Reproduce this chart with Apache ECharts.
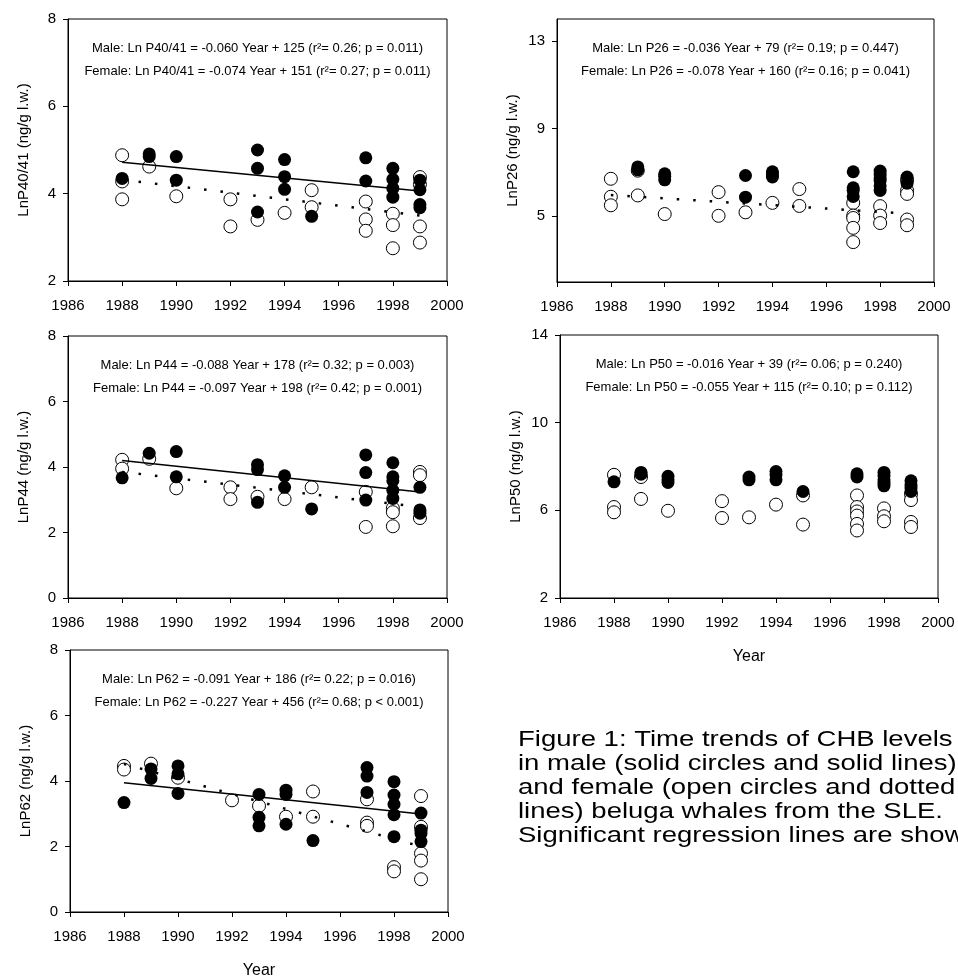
<!DOCTYPE html>
<html>
<head>
<meta charset="utf-8">
<title>CHB time trends</title>
<script src="https://cdn.jsdelivr.net/npm/echarts@6/dist/echarts.min.js"></script>
<style>
  html, body { margin: 0; padding: 0; background: #fff; }
  #chart { width: 958px; height: 980px; }
</style>
</head>
<body>
<div id="chart"></div>
<script>
// ---- Data: [year, ln concentration] ----
const maleP4041 = [[1988,4.35],[1989,4.91],[1989,4.85],[1990,4.85],[1990,4.31],[1993,5.0],[1993,4.58],[1993,3.58],
  [1994,4.78],[1994,4.39],[1994,4.10],[1995,3.48],[1997,4.82],[1997,4.29],[1998,4.58],[1998,4.33],[1998,4.12],
  [1998,3.92],[1999,4.31],[1999,4.09],[1999,3.75],[1999,3.68]];
const femaleP4041 = [[1988,4.88],[1988,4.28],[1988,3.87],[1989,4.62],[1990,3.94],[1992,3.87],[1992,3.25],[1993,3.40],
  [1994,3.56],[1995,4.08],[1995,3.69],[1997,3.82],[1997,3.41],[1997,3.15],[1998,3.54],[1998,3.28],[1998,2.75],
  [1999,4.38],[1999,4.21],[1999,3.25],[1999,2.88]];
const maleFitP4041 = [[1988,4.72],[1999,4.06]];
const femaleFitP4041 = [[1988,4.32],[1999,3.50]];

const maleP26 = [[1989,7.25],[1989,7.12],[1990,6.94],[1990,6.82],[1990,6.66],[1993,6.86],[1993,5.87],[1994,7.03],
  [1994,6.91],[1994,6.79],[1997,7.03],[1997,6.30],[1997,6.18],[1997,5.90],[1998,7.06],[1998,6.91],[1998,6.75],
  [1998,6.63],[1998,6.39],[1998,6.18],[1999,6.79],[1999,6.51]];
const femaleP26 = [[1988,6.71],[1988,5.89],[1988,5.50],[1989,7.08],[1989,5.95],[1990,5.10],[1992,6.10],[1992,5.02],
  [1993,5.18],[1994,5.61],[1995,6.24],[1995,5.47],[1997,5.61],[1997,5.03],[1997,4.92],[1997,4.47],[1997,3.82],
  [1998,5.46],[1998,5.03],[1998,4.69],[1999,6.66],[1999,6.18],[1999,6.02],[1999,4.85],[1999,4.59]];
const femaleFitP26 = [[1988,5.97],[1999,5.12]];

const maleP44 = [[1988,3.67],[1989,4.42],[1990,4.47],[1990,3.70],[1993,4.07],[1993,3.92],[1993,2.92],[1994,3.73],
  [1994,3.38],[1995,2.72],[1997,4.37],[1997,3.83],[1997,2.99],[1998,4.13],[1998,3.70],[1998,3.58],[1998,3.29],
  [1998,3.04],[1999,3.38],[1999,2.69],[1999,2.59]];
const femaleP44 = [[1988,4.22],[1988,3.95],[1989,4.25],[1990,3.35],[1992,3.38],[1992,3.02],[1993,3.09],[1994,3.02],
  [1995,3.38],[1997,3.24],[1997,2.17],[1998,2.74],[1998,2.62],[1998,2.19],[1999,3.85],[1999,3.75],[1999,2.44]];
const maleFitP44 = [[1988,4.20],[1999,3.24]];
const femaleFitP44 = [[1988,3.85],[1999,2.78]];

const maleP50 = [[1988,7.30],[1989,7.73],[1989,7.65],[1990,7.55],[1990,7.39],[1990,7.27],[1993,7.52],[1993,7.39],
  [1994,7.77],[1994,7.62],[1994,7.39],[1995,6.86],[1997,7.67],[1997,7.52],[1998,7.73],[1998,7.58],[1998,7.39],
  [1998,7.24],[1998,7.12],[1999,7.35],[1999,7.17],[1999,7.02],[1999,6.86]];
const femaleP50 = [[1988,7.62],[1988,6.15],[1988,5.91],[1989,7.52],[1989,6.52],[1990,5.98],[1992,6.42],[1992,5.65],
  [1993,5.68],[1994,6.26],[1995,6.68],[1995,5.35],[1997,6.68],[1997,6.15],[1997,5.95],[1997,5.76],[1997,5.38],
  [1997,5.08],[1998,6.09],[1998,5.73],[1998,5.50],[1999,6.74],[1999,6.47],[1999,5.47],[1999,5.24]];

const maleP62 = [[1988,3.34],[1989,4.37],[1989,4.08],[1990,4.46],[1990,4.22],[1990,3.62],[1993,3.59],[1993,2.89],
  [1993,2.63],[1994,3.72],[1994,3.59],[1994,2.68],[1995,2.18],[1997,4.41],[1997,4.15],[1997,3.65],[1998,3.98],
  [1998,3.57],[1998,3.29],[1998,2.97],[1998,2.30],[1999,3.02],[1999,2.50],[1999,2.40],[1999,2.15]];
const femaleP62 = [[1988,4.46],[1988,4.35],[1989,4.53],[1990,4.10],[1992,3.41],[1993,3.24],[1994,2.91],[1995,3.68],
  [1995,2.91],[1997,3.44],[1997,2.73],[1997,2.63],[1998,1.37],[1998,1.24],[1999,3.54],[1999,2.60],[1999,1.79],
  [1999,1.57],[1999,1.0]];
const maleFitP62 = [[1988,3.95],[1999,2.99]];
const femaleFitP62 = [[1988,4.52],[1999,2.0]];

const yearTicks = [1986, 2000, 2];
const yTitles = ['LnP40/41 (ng/g l.w.)', 'LnP26 (ng/g l.w.)', 'LnP44 (ng/g l.w.)', 'LnP50 (ng/g l.w.)', 'LnP62 (ng/g l.w.)'];
const maleEq = [
  'Male: Ln P40/41 = -0.060 Year + 125 (r²= 0.26; p = 0.011)',
  'Male: Ln P26 = -0.036 Year + 79 (r²= 0.19; p = 0.447)',
  'Male: Ln P44 = -0.088 Year + 178 (r²= 0.32; p = 0.003)',
  'Male: Ln P50 = -0.016 Year + 39 (r²= 0.06; p = 0.240)',
  'Male: Ln P62 = -0.091 Year + 186 (r²= 0.22; p = 0.016)'
];
const femaleEq = [
  'Female: Ln P40/41 = -0.074 Year + 151 (r²= 0.27; p = 0.011)',
  'Female: Ln P26 = -0.078 Year + 160 (r²= 0.16; p = 0.041)',
  'Female: Ln P44 = -0.097 Year + 198 (r²= 0.42; p = 0.001)',
  'Female: Ln P50 = -0.055 Year + 115 (r²= 0.10; p = 0.112)',
  'Female: Ln P62 = -0.227 Year + 456 (r²= 0.68; p < 0.001)'
];
const captionLines = [
  'Figure 1: Time trends of CHB levels',
  'in male (solid circles and solid lines)',
  'and female (open circles and dotted',
  'lines) beluga whales from the SLE.',
  'Significant regression lines are shown.'
];

// ---- Layout ----
const FONT = 'Liberation Sans, Arial, sans-serif';
const panels = [
  { left: 68,  top: 19,  width: 379, height: 262, yMin: 2, yMax: 8,  yTicks: [2, 4, 6, 8],
    male: maleP4041, female: femaleP4041, maleFit: maleFitP4041, femaleFit: femaleFitP4041, year: false },
  { left: 557, top: 19,  width: 377, height: 263, yMin: 2, yMax: 14, yTicks: [5, 9, 13],
    male: maleP26, female: femaleP26, maleFit: null, femaleFit: femaleFitP26, year: false },
  { left: 68,  top: 336, width: 379, height: 262, yMin: 0, yMax: 8,  yTicks: [0, 2, 4, 6, 8],
    male: maleP44, female: femaleP44, maleFit: maleFitP44, femaleFit: femaleFitP44, year: false },
  { left: 560, top: 335, width: 378, height: 263, yMin: 2, yMax: 14, yTicks: [2, 6, 10, 14],
    male: maleP50, female: femaleP50, maleFit: null, femaleFit: null, year: true },
  { left: 70,  top: 650, width: 378, height: 262, yMin: 0, yMax: 8,  yTicks: [0, 2, 4, 6, 8],
    male: maleP62, female: femaleP62, maleFit: maleFitP62, femaleFit: femaleFitP62, year: true }
];

const grid = [], xAxis = [], yAxis = [], series = [], graphic = [];

panels.forEach((p, i) => {
  grid.push({ left: p.left, top: p.top, width: p.width, height: p.height,
    show: true, borderColor: '#000', borderWidth: 1, backgroundColor: 'transparent' });

  xAxis.push({
    gridIndex: i, type: 'value', min: yearTicks[0], max: yearTicks[1], interval: yearTicks[2],
    name: p.year ? 'Year' : '', nameLocation: 'middle', nameGap: 51,
    nameTextStyle: { color: '#000', fontSize: 16, fontFamily: FONT },
    axisLine: { show: true, onZero: false, lineStyle: { color: '#000', width: 1 } },
    axisTick: { show: true, inside: false, length: 5, lineStyle: { color: '#000' } },
    axisLabel: { color: '#000', fontSize: 15, fontFamily: FONT, margin: 17, formatter: v => String(v) },
    splitLine: { show: false }
  });

  yAxis.push({
    gridIndex: i, type: 'value', min: p.yMin, max: p.yMax,
    name: yTitles[i], nameLocation: 'middle', nameGap: 37,
    nameTextStyle: { color: '#000', fontSize: 15, fontFamily: FONT },
    axisLine: { show: true, onZero: false, lineStyle: { color: '#000', width: 1 } },
    axisTick: { show: true, inside: false, length: 5, customValues: p.yTicks, lineStyle: { color: '#000' } },
    axisLabel: { color: '#000', fontSize: 15, fontFamily: FONT, margin: 12, customValues: p.yTicks },
    splitLine: { show: false }
  });

  series.push({
    type: 'scatter', xAxisIndex: i, yAxisIndex: i, data: p.female, symbol: 'circle', symbolSize: 13,
    itemStyle: { color: '#fff', borderColor: '#000', borderWidth: 1, opacity: 1 }, z: 2
  });
  series.push({
    type: 'scatter', xAxisIndex: i, yAxisIndex: i, data: p.male, symbol: 'circle', symbolSize: 13,
    itemStyle: { color: '#000', opacity: 1 }, z: 3
  });
  if (p.maleFit) {
    series.push({
      type: 'line', xAxisIndex: i, yAxisIndex: i, data: p.maleFit, showSymbol: false, symbol: 'none',
      lineStyle: { color: '#000', width: 1.5 }, z: 4
    });
  }
  if (p.femaleFit) {
    series.push({
      type: 'line', xAxisIndex: i, yAxisIndex: i, data: p.femaleFit, showSymbol: false, symbol: 'none',
      lineStyle: { color: '#000', width: 2.5, type: [2.5, 14] }, z: 4
    });
  }

  // regression equations
  const cx = p.left + p.width / 2;
  graphic.push({ type: 'text', x: cx, y: p.top + 29,
    style: { text: maleEq[i], fill: '#000', fontSize: 13, fontFamily: FONT, align: 'center', verticalAlign: 'middle' } });
  graphic.push({ type: 'text', x: cx, y: p.top + 52,
    style: { text: femaleEq[i], fill: '#000', fontSize: 13, fontFamily: FONT, align: 'center', verticalAlign: 'middle' } });
});

// figure caption (runs off the right edge in the original)
graphic.push({ type: 'text', x: 518, y: 728, scaleX: 1.25,
  style: { text: captionLines.join('\n'), fill: '#000', fontSize: 22, lineHeight: 24, fontFamily: FONT,
    align: 'left', verticalAlign: 'top' } });

const chart = echarts.init(document.getElementById('chart'));
chart.setOption({
  animation: false,
  backgroundColor: '#fff',
  grid, xAxis, yAxis, series, graphic
});
</script>
</body>
</html>
